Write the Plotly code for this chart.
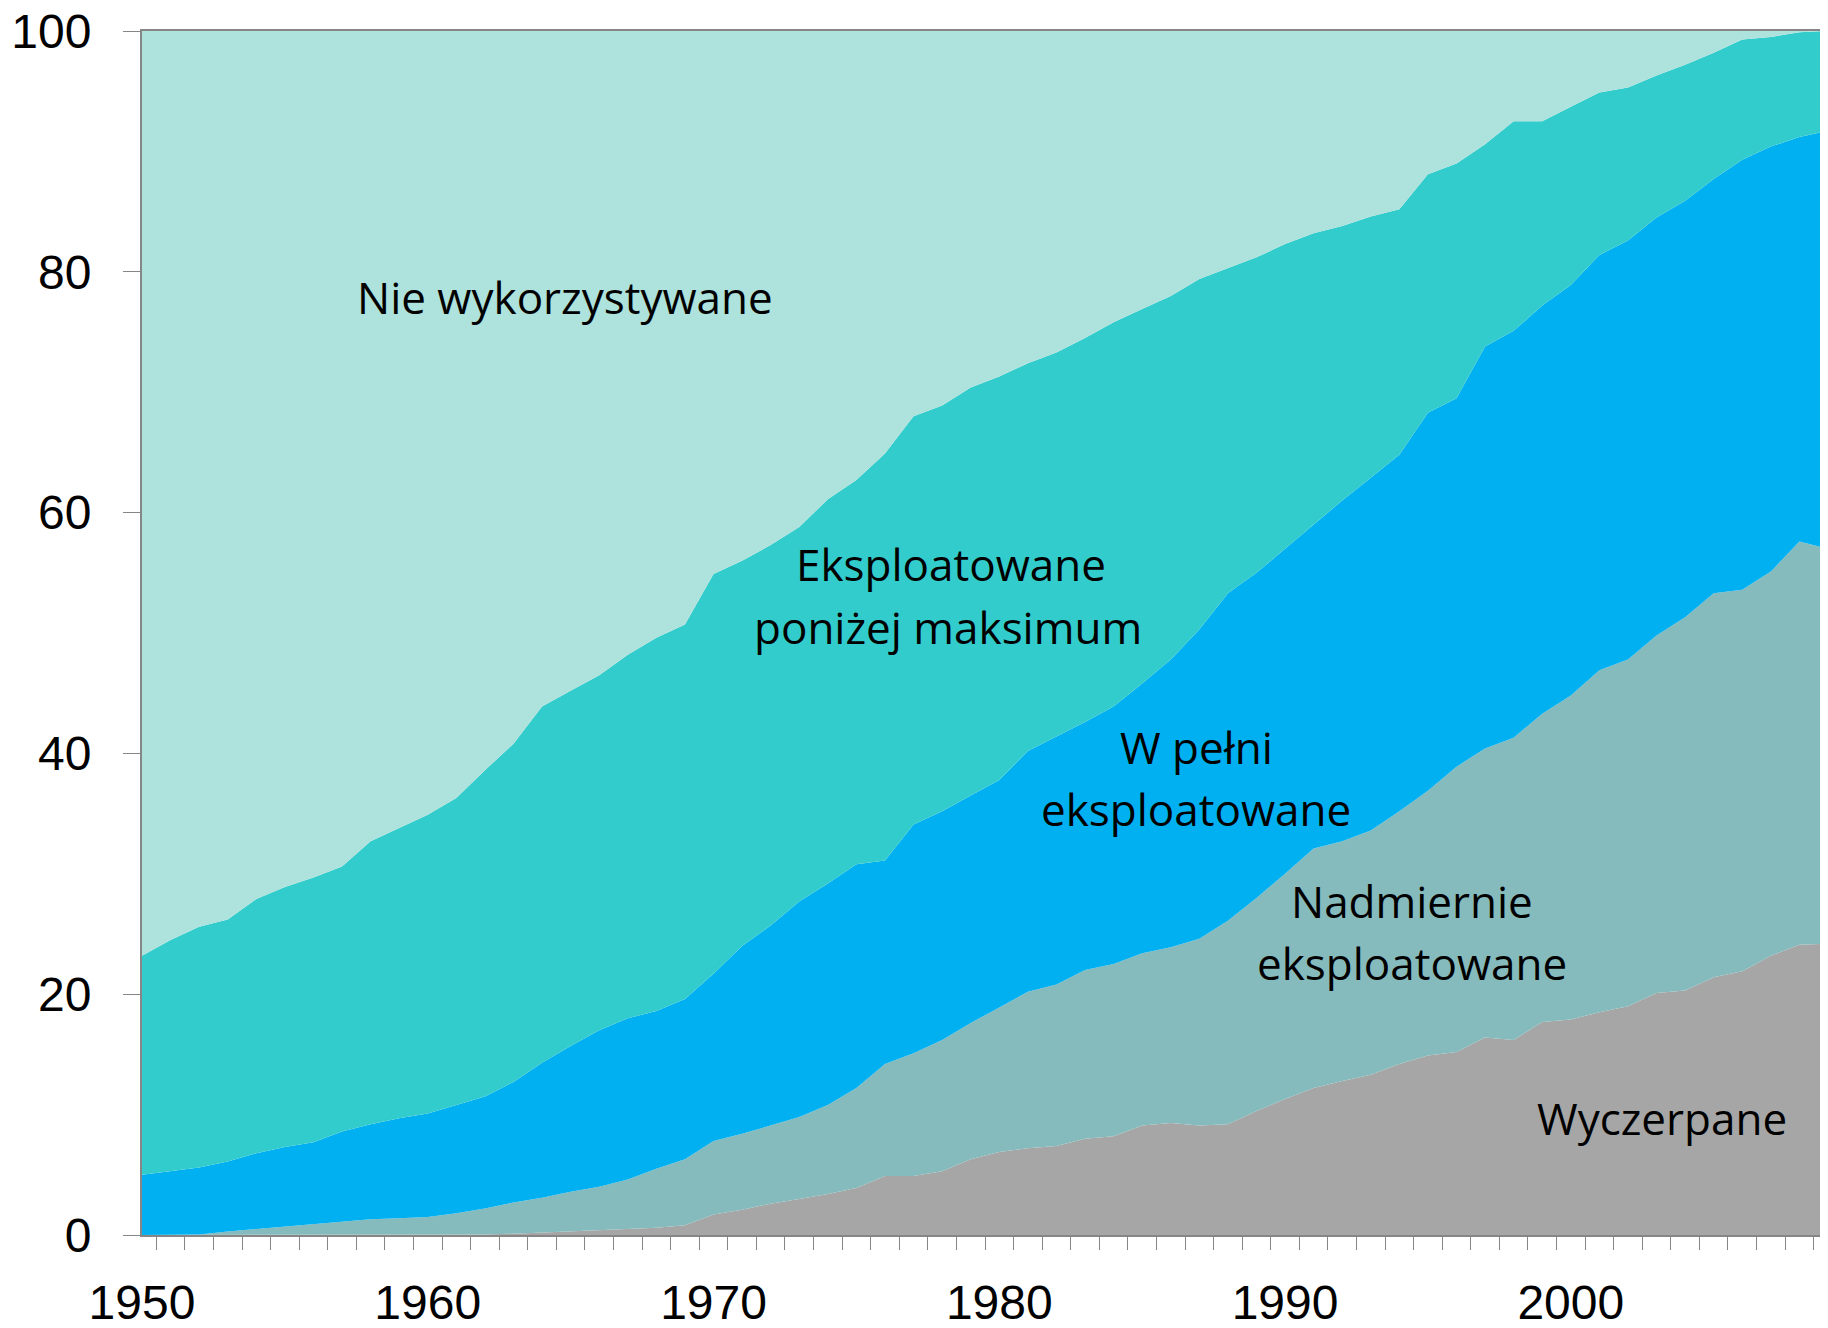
import plotly.graph_objects as go

years = list(range(1950, 2010))

# Percent of stocks in each category (stacked, bottom to top)
wyczerpane = [0, 0, 0, 0, 0, 0, 0, 0, 0, 0,
              0, 0, 0.05, 0.1, 0.2, 0.3, 0.4, 0.5, 0.6, 0.8,
              1.7, 2.1, 2.6, 3.0, 3.4, 3.9, 4.9, 4.9, 5.3, 6.3,
              6.9, 7.2, 7.4, 8.0, 8.2, 9.1, 9.3, 9.1, 9.2, 10.3,
              11.3, 12.2, 12.8, 13.3, 14.2, 14.9, 15.2, 16.4, 16.2, 17.7,
              17.9, 18.5, 19.0, 20.1, 20.3, 21.4, 21.9, 23.2, 24.1, 24.2]

nadmiernie = [0, 0, 0.05, 0.3, 0.5, 0.7, 0.9, 1.1, 1.3, 1.4,
              1.5, 1.8, 2.15, 2.6, 2.9, 3.3, 3.6, 4.1, 4.9, 5.5,
              6.1, 6.3, 6.5, 6.8, 7.4, 8.3, 9.3, 10.2, 10.9, 11.3,
              12.0, 13.0, 13.4, 14.0, 14.3, 14.3, 14.6, 15.5, 16.9, 17.7,
              18.7, 19.9, 19.9, 20.3, 21.0, 22.0, 23.7, 24.0, 25.1, 25.6,
              26.9, 28.4, 28.8, 29.7, 31.0, 31.9, 31.7, 31.9, 33.5, 32.8]

w_pelni = [5.0, 5.3, 5.55, 5.8, 6.3, 6.6, 6.8, 7.5, 7.9, 8.3,
           8.6, 9.0, 9.3, 10.0, 11.2, 12.1, 13.0, 13.4, 13.1, 13.3,
           13.9, 15.6, 16.6, 17.9, 18.4, 18.6, 16.9, 19.0, 19.0, 18.9,
           18.9, 20.0, 20.6, 20.6, 21.4, 22.4, 23.9, 25.7, 27.2, 27.0,
           27.0, 26.9, 28.3, 29.3, 29.6, 31.4, 30.6, 33.4, 33.8, 33.9,
           34.1, 34.5, 34.8, 34.7, 34.6, 34.4, 35.7, 35.3, 33.6, 34.7]

ponizej = [18.2, 19.2, 20.0, 20.1, 21.1, 21.6, 22.0, 22.0, 23.5, 24.1,
           24.8, 25.5, 27.1, 28.1, 29.6, 29.5, 29.5, 30.2, 31.0, 31.1,
           33.2, 32.0, 31.6, 31.1, 31.9, 31.9, 33.8, 33.9, 33.7, 33.9,
           33.5, 32.2, 31.9, 31.9, 31.9, 31.1, 30.2, 29.1, 27.0, 26.2,
           25.3, 24.2, 22.8, 21.7, 20.4, 19.8, 19.5, 16.8, 17.4, 15.3,
           14.8, 13.5, 12.7, 11.8, 11.3, 10.5, 10.0, 9.1, 8.7, 8.3]

nie_wykorzystywane = [76.8, 75.5, 74.4, 73.8, 72.1, 71.1, 70.3, 69.4, 67.3, 66.2,
                      65.1, 63.7, 61.4, 59.2, 56.1, 54.8, 53.5, 51.8, 50.4, 49.3,
                      45.1, 44.0, 42.7, 41.2, 38.9, 37.3, 35.1, 32.0, 31.1, 29.6,
                      28.7, 27.6, 26.7, 25.5, 24.2, 23.1, 22.0, 20.6, 19.7, 18.8,
                      17.7, 16.8, 16.2, 15.4, 14.8, 11.9, 11.0, 9.4, 7.5, 7.5,
                      6.3, 5.1, 4.7, 3.7, 2.8, 1.8, 0.7, 0.5, 0.1, 0.0]

series = [
    ("Wyczerpane", wyczerpane, "#A6A6A6"),
    ("Nadmiernie eksploatowane", nadmiernie, "#86BBBD"),
    ("W pełni eksploatowane", w_pelni, "#00B0F0"),
    ("Eksploatowane poniżej maksimum", ponizej, "#33CCCC"),
    ("Nie wykorzystywane", nie_wykorzystywane, "#AEE2DC"),
]

# label lines: (text, x-year, y-value)
labels = [
    ("Nie wykorzystywane", 1964.8, 77.9),
    ("Eksploatowane", 1978.3, 55.7),
    ("poniżej maksimum", 1978.2, 50.5),
    ("W pełni", 1986.9, 40.5),
    ("eksploatowane", 1986.9, 35.4),
    ("Nadmiernie", 1994.45, 27.7),
    ("eksploatowane", 1994.45, 22.6),
    ("Wyczerpane", 2003.2, 9.7),
]

x_tickvals = [1950, 1960, 1970, 1980, 1990, 2000]
y_tickvals = [0, 20, 40, 60, 80, 100]

fig = go.Figure()
for name, vals, color in series:
    fig.add_trace(go.Scatter(
        x=years, y=vals, name=name, mode="lines",
        stackgroup="one", line=dict(width=0, color=color),
        fillcolor=color, hoverinfo="x+y+name",
    ))

for text, xv, yv in labels:
    fig.add_annotation(x=xv, y=yv, text=text, showarrow=False,
                       xanchor="center", yanchor="middle",
                       font=dict(family="Open Sans", size=44, color="#000000"))

tick_font = dict(family="Liberation Sans", size=48, color="#000000")

# the page body adds an 8px offset, so the figure is sized to fit the window
fig.update_layout(
    width=1820, height=1320,
    margin=dict(l=134, r=0, t=23, b=93, autoexpand=False),
    paper_bgcolor="white", plot_bgcolor="white",
    showlegend=False,
    xaxis=dict(
        range=[1950, 2009], tickmode="array", tickvals=x_tickvals,
        ticktext=[str(v) for v in x_tickvals],
        showgrid=False, zeroline=False, automargin=False,
        showline=True, linecolor="#868686", linewidth=2, mirror=True,
        ticks="", tickfont=tick_font, ticklabelstandoff=24,
        ticklabeloverflow="allow",
        minor=dict(tick0=1950.5, dtick=1, ticks="outside", ticklen=13,
                   tickcolor="#868686", tickwidth=1, showgrid=False),
    ),
    yaxis=dict(
        range=[0, 100], tickmode="array", tickvals=y_tickvals,
        showgrid=False, zeroline=False, automargin=False,
        showline=True, linecolor="#868686", linewidth=2,
        ticks="outside", ticklen=17, tickcolor="#868686", tickwidth=1,
        tickfont=tick_font, ticklabelstandoff=22,
        ticklabeloverflow="allow",
    ),
)

fig.write_html("out.html")
